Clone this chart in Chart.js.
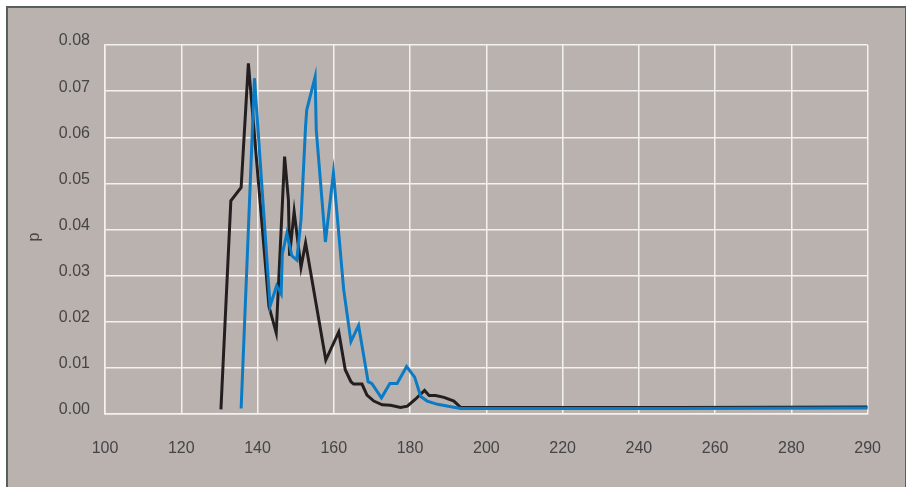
<!DOCTYPE html>
<html>
<head>
<meta charset="utf-8">
<script src="https://cdn.jsdelivr.net/npm/chart.js@4.4.0/dist/chart.umd.min.js"></script>
<style>
  body { margin: 0; background: #ffffff; }
  .wrap { position: relative; width: 906px; height: 487px; overflow: hidden; }
  .panel {
    position: absolute; left: 6px; top: 6px; width: 897px; height: 500px;
    background: #b9b2af; border: 2px solid #576060; border-bottom: none;
  }
  canvas { position: absolute; left: 0; top: 0; }
</style>
</head>
<body>
<div class="wrap">
  <div class="panel"></div>
  <canvas id="pChart" width="906" height="487"></canvas>
</div>
<script>
// x ticks run 100..300 in steps of 20; the last one is printed as 290 in the original
const xTickLabels = { 100: '100', 120: '120', 140: '140', 160: '160', 180: '180', 200: '200',
                      220: '220', 240: '240', 260: '260', 280: '280', 300: '290' };

const blackX = [130.4, 133.0, 135.7, 137.6, 143.0, 144.9, 147.1, 148.1, 148.4, 149.6, 151.4, 152.6,
                157.9, 161.3, 163.0, 164.5, 165.2, 167.4, 168.7, 170.5, 172.7, 174.9, 177.5, 179.3,
                181.4, 183.8, 185.0, 186.7, 188.9, 191.5, 193.3, 196.8, 250, 300];
const blackP = [0.0010, 0.0462, 0.0491, 0.0760, 0.0233, 0.0176, 0.0558, 0.0464, 0.0343, 0.0439, 0.0318, 0.0371,
                0.0117, 0.0178, 0.0096, 0.0070, 0.0065, 0.0065, 0.0041, 0.0028, 0.0020, 0.0019, 0.0014, 0.0017,
                0.0032, 0.0051, 0.0040, 0.0040, 0.0036, 0.0028, 0.0014, 0.0014, 0.0014, 0.0015];

const blueX = [135.7, 139.2, 143.3, 145.0, 146.2, 146.5, 147.7, 149.0, 150.3, 151.4, 152.6, 152.9,
               155.1, 155.4, 157.8, 159.9, 162.6, 164.5, 166.5, 169.0, 170.0, 172.5, 174.7, 176.6,
               179.1, 181.2, 182.8, 184.5, 187.2, 191.1, 193.3, 250, 300];
const blueP = [0.0012, 0.0728, 0.0234, 0.0278, 0.0260, 0.0347, 0.0392, 0.0343, 0.0334, 0.0421, 0.0624, 0.0659,
               0.0731, 0.0616, 0.0373, 0.0523, 0.0269, 0.0157, 0.0192, 0.0070, 0.0066, 0.0035, 0.0066, 0.0066,
               0.0103, 0.0080, 0.0038, 0.0028, 0.0021, 0.0015, 0.0012, 0.0012, 0.0013];

const toPoints = (xs, ys) => xs.map((x, i) => ({ x, y: ys[i] }));

// y title drawn by hand so it sits where the original has it
const yTitle = {
    id: 'yTitle',
    afterDraw(chart) {
        const ctx = chart.ctx;
        ctx.save();
        ctx.translate(35, 237);
        ctx.rotate(-Math.PI / 2);
        ctx.font = '16px "Liberation Sans", Arial, sans-serif';
        ctx.fillStyle = '#454545';
        ctx.textAlign = 'center';
        ctx.textBaseline = 'middle';
        ctx.fillText('p', 0, 0);
        ctx.restore();
    }
};

const ctx = document.getElementById('pChart').getContext('2d');
new Chart(ctx, {
    type: 'line',
    data: {
        datasets: [
            {
                label: 'blue',
                data: toPoints(blueX, blueP),
                borderColor: '#0a7bc4',
                borderWidth: 3,
                pointRadius: 0,
                tension: 0,
                fill: false
            },
            {
                label: 'black',
                data: toPoints(blackX, blackP),
                borderColor: '#231f20',
                borderWidth: 3,
                pointRadius: 0,
                tension: 0,
                fill: false
            }
        ]
    },
    options: {
        responsive: false,
        animation: false,
        layout: { padding: { left: 0, top: 45, right: 38, bottom: 0 } },
        plugins: {
            legend: { display: false },
            tooltip: { enabled: false }
        },
        scales: {
            x: {
                type: 'linear',
                min: 100,
                max: 300,
                border: { display: true, color: '#f4f2f0', width: 1.5 },
                grid: { color: '#f4f2f0', lineWidth: 1.5, drawTicks: false },
                ticks: {
                    stepSize: 20,
                    padding: 25,
                    color: '#454545',
                    font: { family: '"Liberation Sans", Arial, sans-serif', size: 16 },
                    maxRotation: 0,
                    callback: (v) => xTickLabels[v] || ''
                },
                afterFit: (scale) => { scale.height = 73; }
            },
            y: {
                min: 0,
                max: 0.08,
                border: { display: true, color: '#f4f2f0', width: 1.5 },
                grid: { color: '#f4f2f0', lineWidth: 1.5, drawTicks: false },
                ticks: {
                    stepSize: 0.01,
                    padding: 15,
                    labelOffset: -4,
                    color: '#454545',
                    font: { family: '"Liberation Sans", Arial, sans-serif', size: 16 },
                    callback: (v) => v.toFixed(2)
                },
                afterFit: (scale) => { scale.width = 105; }
            }
        }
    },
    plugins: [yTitle]
});
</script>
</body>
</html>
